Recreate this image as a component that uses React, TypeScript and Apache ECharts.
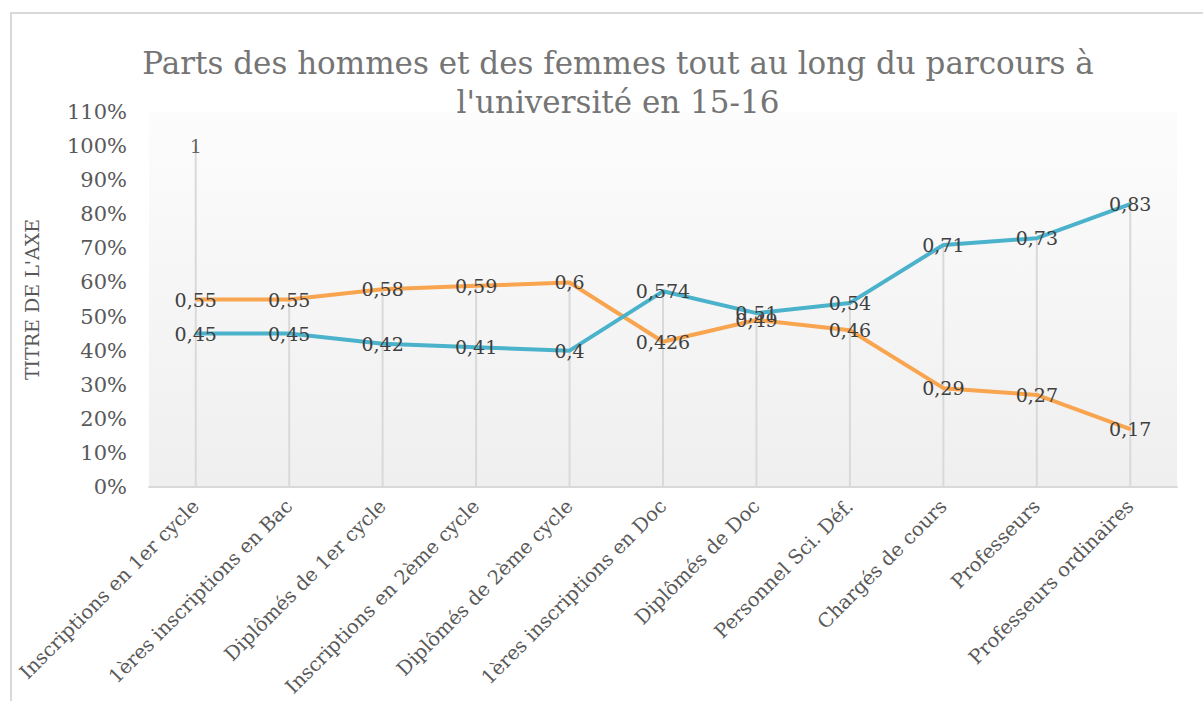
import React, { useEffect, useRef } from "react";
import * as echarts from "echarts";

const categories = [
  "Inscriptions en 1er cycle",
  "1ères inscriptions en Bac",
  "Diplômés de 1er cycle",
  "Inscriptions en 2ème cycle",
  "Diplômés de 2ème cycle",
  "1ères inscriptions en Doc",
  "Diplômés de Doc",
  "Personnel Sci. Déf.",
  "Chargés de cours",
  "Professeurs",
  "Professeurs ordinaires",
];
const hommes = [0.45, 0.45, 0.42, 0.41, 0.4, 0.574, 0.51, 0.54, 0.71, 0.73, 0.83];
const femmes = [0.55, 0.55, 0.58, 0.59, 0.6, 0.426, 0.49, 0.46, 0.29, 0.27, 0.17];
const total: (number | null)[] = [1, null, null, null, null, null, null, null, null, null, null];
const yTicks = { min: 0, max: 1.1, interval: 0.1 };

const SERIF = "'DejaVu Serif', 'Liberation Serif', serif";

const fmt = (v: number) => String(v).replace(".", ",");

export default function App() {
  const ref = useRef<HTMLDivElement>(null);
  useEffect(() => {
    if (!ref.current) return;
    const chart = echarts.init(ref.current, undefined, { renderer: "svg" });
    const drop = categories.map((_, i) =>
      Math.max(hommes[i] ?? 0, femmes[i] ?? 0, total[i] ?? 0)
    );
    const labelStyle = {
      show: true,
      position: "inside" as const,
      color: "#404040",
      fontFamily: SERIF,
      fontSize: 19,
      formatter: (p: any) => fmt(p.value),
    };
    chart.setOption({
      animation: false,
      backgroundColor: "#ffffff",
      graphic: [
        {
          type: "rect",
          shape: { x: 11, y: 13, width: 1260, height: 760 },
          style: { fill: "none", stroke: "#d9d9d9", lineWidth: 2 },
          silent: true,
          z: -10,
        },
      ],
      title: {
        text: "Parts des hommes et des femmes tout au long du parcours à\nl'université en 15-16",
        left: 613,
        top: 38,
        textAlign: "center",
        textStyle: {
          fontFamily: SERIF,
          fontSize: 31,
          fontWeight: "normal",
          color: "#757575",
          lineHeight: 39,
        },
      },
      grid: {
        left: 149,
        right: 1203 - 1177,
        top: 112,
        bottom: 701 - 487,
        show: true,
        borderWidth: 0,
        backgroundColor: new echarts.graphic.LinearGradient(0, 0, 0, 1, [
          { offset: 0, color: "#fcfcfc" },
          { offset: 1, color: "#efefef" },
        ]),
      },
      xAxis: {
        type: "category",
        data: categories,
        boundaryGap: true,
        axisLine: { show: true, lineStyle: { color: "#d9d9d9", width: 2 } },
        axisTick: { show: false },
        axisLabel: {
          rotate: 45,
          interval: 0,
          margin: 16,
          color: "#595959",
          fontFamily: SERIF,
          fontSize: 19.5,
        },
        splitLine: { show: false },
      },
      yAxis: {
        type: "value",
        min: yTicks.min,
        max: yTicks.max,
        interval: yTicks.interval,
        name: "TITRE DE L'AXE",
        nameLocation: "middle",
        nameRotate: 90,
        nameGap: 108,
        nameTextStyle: { color: "#595959", fontFamily: SERIF, fontSize: 19 },
        axisLine: { show: false },
        axisTick: { show: false },
        splitLine: { show: false },
        axisLabel: {
          color: "#595959",
          fontFamily: SERIF,
          fontSize: 21,
          margin: 22,
          formatter: (v: number) => Math.round(v * 100) + "%",
        },
      },
      series: [
        {
          name: "drop",
          type: "bar",
          data: drop,
          barWidth: 2,
          itemStyle: { color: "#d9d9d9" },
          silent: true,
          z: 1,
        },
        {
          name: "Femmes",
          type: "line",
          data: femmes,
          symbol: "circle",
          symbolSize: 2,
          showSymbol: true,
          itemStyle: { color: "#F9A44F" },
          lineStyle: { color: "#F9A44F", width: 4 },
          label: labelStyle,
          z: 3,
        },
        {
          name: "Hommes",
          type: "line",
          data: hommes,
          symbol: "circle",
          symbolSize: 2,
          showSymbol: true,
          itemStyle: { color: "#4BB2CB" },
          lineStyle: { color: "#4BB2CB", width: 4 },
          label: labelStyle,
          z: 4,
        },
        {
          name: "Total",
          type: "scatter",
          data: total,
          symbolSize: 1,
          itemStyle: { color: "rgba(0,0,0,0)" },
          label: { ...labelStyle, color: "#404040" },
          z: 5,
        },
      ],
    });
    return () => chart.dispose();
  }, []);
  return (
    <div
      ref={ref}
      style={{ position: "fixed", left: 0, top: 0, width: 1203, height: 701 }}
    />
  );
}
